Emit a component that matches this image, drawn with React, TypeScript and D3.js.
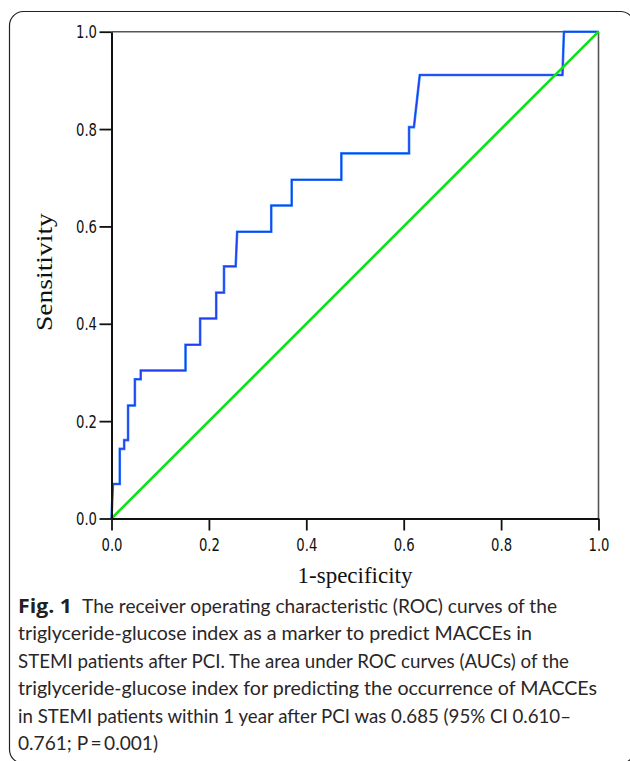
import React, { useEffect, useRef } from "react";
import * as d3 from "d3";

// ROC curve vertices (1-specificity, sensitivity)
const rocFpr = [0, 0.003, 0.017, 0.017, 0.026, 0.026, 0.034, 0.034, 0.048, 0.048, 0.06, 0.06, 0.152, 0.152, 0.182, 0.182, 0.215, 0.215, 0.231, 0.231, 0.255, 0.258, 0.328, 0.328, 0.37, 0.37, 0.472, 0.472, 0.611, 0.611, 0.621, 0.633, 0.926, 0.929, 1.0];
const rocSens = [0, 0.071, 0.071, 0.143, 0.143, 0.161, 0.161, 0.232, 0.232, 0.286, 0.286, 0.304, 0.304, 0.357, 0.357, 0.411, 0.411, 0.464, 0.464, 0.518, 0.518, 0.589, 0.589, 0.643, 0.643, 0.696, 0.696, 0.75, 0.75, 0.804, 0.804, 0.911, 0.911, 1.0, 1.0];

// reference line
const refX = [0, 1];
const refY = [0, 1];

const xTicks = [0, 0.2, 0.4, 0.6, 0.8, 1.0];
const yTicks = [0, 0.2, 0.4, 0.6, 0.8, 1.0];

const xTitle = "1-specificity";
const yTitle = "Sensitivity";

const captionBold = "Fig. 1";
const captionLines = [
  "The receiver operating characteristic (ROC) curves of the",
  "triglyceride-glucose index as a marker to predict MACCEs in",
  "STEMI patients after PCI. The area under ROC curves (AUCs) of the",
  "triglyceride-glucose index for predicting the occurrence of MACCEs",
  "in STEMI patients within 1 year after PCI was 0.685 (95% CI 0.610–",
  "0.761; P\u2009=\u20090.001)",
];
// right ends of the caption lines in the figure
const captionEnds = [557, 532, 569, 597, 571, 158];

export default function App() {
  const ref = useRef<SVGSVGElement>(null);

  useEffect(() => {
    const svg = d3.select(ref.current);
    svg.selectAll("*").remove();

    // outer rounded frame of the figure
    svg.append("rect")
      .attr("x", 9.5).attr("y", 11.5)
      .attr("width", 625).attr("height", 752)
      .attr("rx", 14)
      .attr("fill", "none").attr("stroke", "#222").attr("stroke-width", 1.2);

    const left = 111.5, right = 598.5, top = 31.7, bottom = 518.5;
    const x = d3.scaleLinear().domain([0, 1]).range([left, right]);
    const y = d3.scaleLinear().domain([0, 1]).range([bottom, top]);

    const g = svg.append("g");

    // top and right frame lines
    g.append("line").attr("x1", left).attr("x2", right).attr("y1", top).attr("y2", top)
      .attr("stroke", "#555").attr("stroke-width", 1.6);
    g.append("line").attr("x1", right).attr("x2", right).attr("y1", top).attr("y2", bottom)
      .attr("stroke", "#555").attr("stroke-width", 1.6);

    const line = d3.line<number>()
      .x((d, i) => x(rocFpr[i]))
      .y((d, i) => y(rocSens[i]));

    // roc curve: light blue underlay with darker blue on top
    g.append("path").datum(rocSens).attr("d", line as any)
      .attr("fill", "none").attr("stroke", "#3a8cff").attr("stroke-width", 2.6);
    g.append("path").datum(rocSens).attr("d", line as any)
      .attr("fill", "none").attr("stroke", "#1f3df2").attr("stroke-width", 1.4);

    const refLine = d3.line<number>()
      .x((d, i) => x(refX[i]))
      .y((d, i) => y(refY[i]));
    g.append("path").datum(refY).attr("d", refLine as any)
      .attr("fill", "none").attr("stroke", "#12e01a").attr("stroke-width", 2.6);

    const tickFont = "'DejaVu Sans Condensed', 'DejaVu Sans', sans-serif";

    const yAxis = g.append("g").attr("transform", `translate(${left},0)`)
      .call(d3.axisLeft(y).tickValues(yTicks).tickSize(12).tickSizeOuter(0).tickFormat(d3.format(".1f")));
    yAxis.select(".domain").attr("stroke", "#111").attr("stroke-width", 2);
    yAxis.selectAll(".tick line").attr("stroke", "#111").attr("stroke-width", 1.8);
    yAxis.selectAll(".tick text")
      .attr("x", -14.5).attr("dy", "0.36em")
      .attr("font-family", tickFont).attr("font-size", 17).attr("fill", "#111")
      .attr("textLength", 21).attr("lengthAdjust", "spacingAndGlyphs");

    const xAxis = g.append("g").attr("transform", `translate(0,${bottom})`)
      .call(d3.axisBottom(x).tickValues(xTicks).tickSize(12).tickSizeOuter(0).tickFormat(d3.format(".1f")));
    xAxis.select(".domain").attr("stroke", "#111").attr("stroke-width", 2);
    xAxis.selectAll(".tick line").attr("stroke", "#111").attr("stroke-width", 1.8);
    xAxis.selectAll(".tick text")
      .attr("y", 32).attr("dy", 0)
      .attr("font-family", tickFont).attr("font-size", 17).attr("fill", "#111")
      .attr("textLength", 21).attr("lengthAdjust", "spacingAndGlyphs");

    // axis titles
    svg.append("text")
      .attr("x", (left + right) / 2).attr("y", 583)
      .attr("text-anchor", "middle")
      .attr("font-family", "'Liberation Serif', serif").attr("font-size", 23).attr("fill", "#111")
      .text(xTitle);
    svg.append("text")
      .attr("transform", `translate(52,${(top + bottom) / 2 - 3}) rotate(-90)`)
      .attr("text-anchor", "middle")
      .attr("font-family", "'Liberation Serif', serif").attr("font-size", 24).attr("fill", "#111")
      .attr("textLength", 118).attr("lengthAdjust", "spacingAndGlyphs")
      .text(yTitle);

    // caption
    const capX = 18, capY0 = 613, capStep = 27.4;
    const capFont = "Lato, 'Open Sans', sans-serif";
    svg.append("text")
      .attr("x", capX).attr("y", capY0)
      .attr("font-family", "'Open Sans', sans-serif").attr("font-weight", 700)
      .attr("font-size", 20).attr("fill", "#231f20")
      .attr("textLength", 54).attr("lengthAdjust", "spacingAndGlyphs")
      .text(captionBold);
    captionLines.forEach((t, i) => {
      const x0 = i === 0 ? 82 : capX;
      svg.append("text")
        .attr("x", x0).attr("y", capY0 + i * capStep)
        .attr("font-family", capFont).attr("font-size", 20).attr("fill", "#2a2627")
        .attr("textLength", captionEnds[i] - x0).attr("lengthAdjust", "spacingAndGlyphs")
        .text(t);
    });
  }, []);

  return (
    <svg ref={ref} width={630} height={761}
      style={{ position: "absolute", left: 0, top: 0, background: "#fff", display: "block" }} />
  );
}
